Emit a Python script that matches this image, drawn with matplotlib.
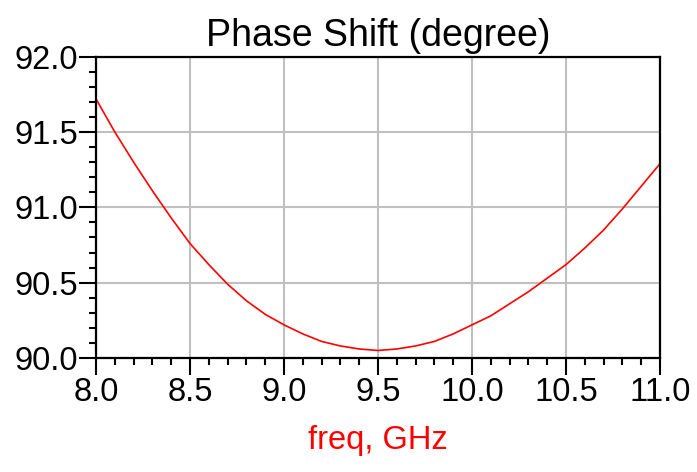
import numpy as np
import matplotlib.pyplot as plt
from matplotlib.ticker import MultipleLocator

plt.rcParams['font.family'] = ['Liberation Sans', 'DejaVu Sans']

# frequency (GHz) and phase shift (degree)
freq = [8.0, 8.1, 8.2, 8.3, 8.4, 8.5, 8.6, 8.7, 8.8, 8.9,
        9.0, 9.1, 9.2, 9.3, 9.4, 9.5, 9.6, 9.7, 9.8, 9.9,
        10.0, 10.1, 10.2, 10.3, 10.4, 10.5, 10.6, 10.7, 10.8, 10.9, 11.0]
phase = [91.72, 91.50, 91.30, 91.11, 90.93, 90.76, 90.62, 90.49, 90.38, 90.29,
         90.22, 90.16, 90.11, 90.08, 90.06, 90.05, 90.06, 90.08, 90.11, 90.16,
         90.22, 90.28, 90.36, 90.44, 90.53, 90.62, 90.73, 90.85, 90.99, 91.14, 91.29]

xticks = [8.0, 8.5, 9.0, 9.5, 10.0, 10.5, 11.0]
yticks = [90.0, 90.5, 91.0, 91.5, 92.0]

fig = plt.figure(figsize=(6.97, 4.72), dpi=100)
ax = fig.add_axes([0.1377, 0.2415, 0.8093, 0.6385])

ax.plot(freq, phase, color='#ff0000', lw=1.2)

ax.set_xlim(8.0, 11.0)
ax.set_ylim(90.0, 92.0)
ax.set_xticks(xticks)
ax.set_yticks(yticks)
ax.set_xticklabels([f'{v:.1f}' for v in xticks])
ax.set_yticklabels([f'{v:.1f}' for v in yticks])
ax.xaxis.set_minor_locator(MultipleLocator(0.1))
ax.yaxis.set_minor_locator(MultipleLocator(0.1))

ax.grid(True, which='major', color='#c0c0c0', lw=1.5)
ax.set_axisbelow(True)
for s in ax.spines.values():
    s.set_color('black')
    s.set_linewidth(1.6)

ax.tick_params(which='major', direction='out', length=12, width=1.5,
               labelsize=23.5, pad=1, colors='black')
ax.tick_params(axis='x', which='major', pad=2)
ax.tick_params(which='minor', direction='out', length=5, width=1.5)

ax.set_title('Phase Shift (degree)', fontsize=27, pad=8)
ax.set_xlabel('freq, GHz', fontsize=23.5, color='#ff0000', labelpad=12)

fig.savefig('out.png', dpi=100)
